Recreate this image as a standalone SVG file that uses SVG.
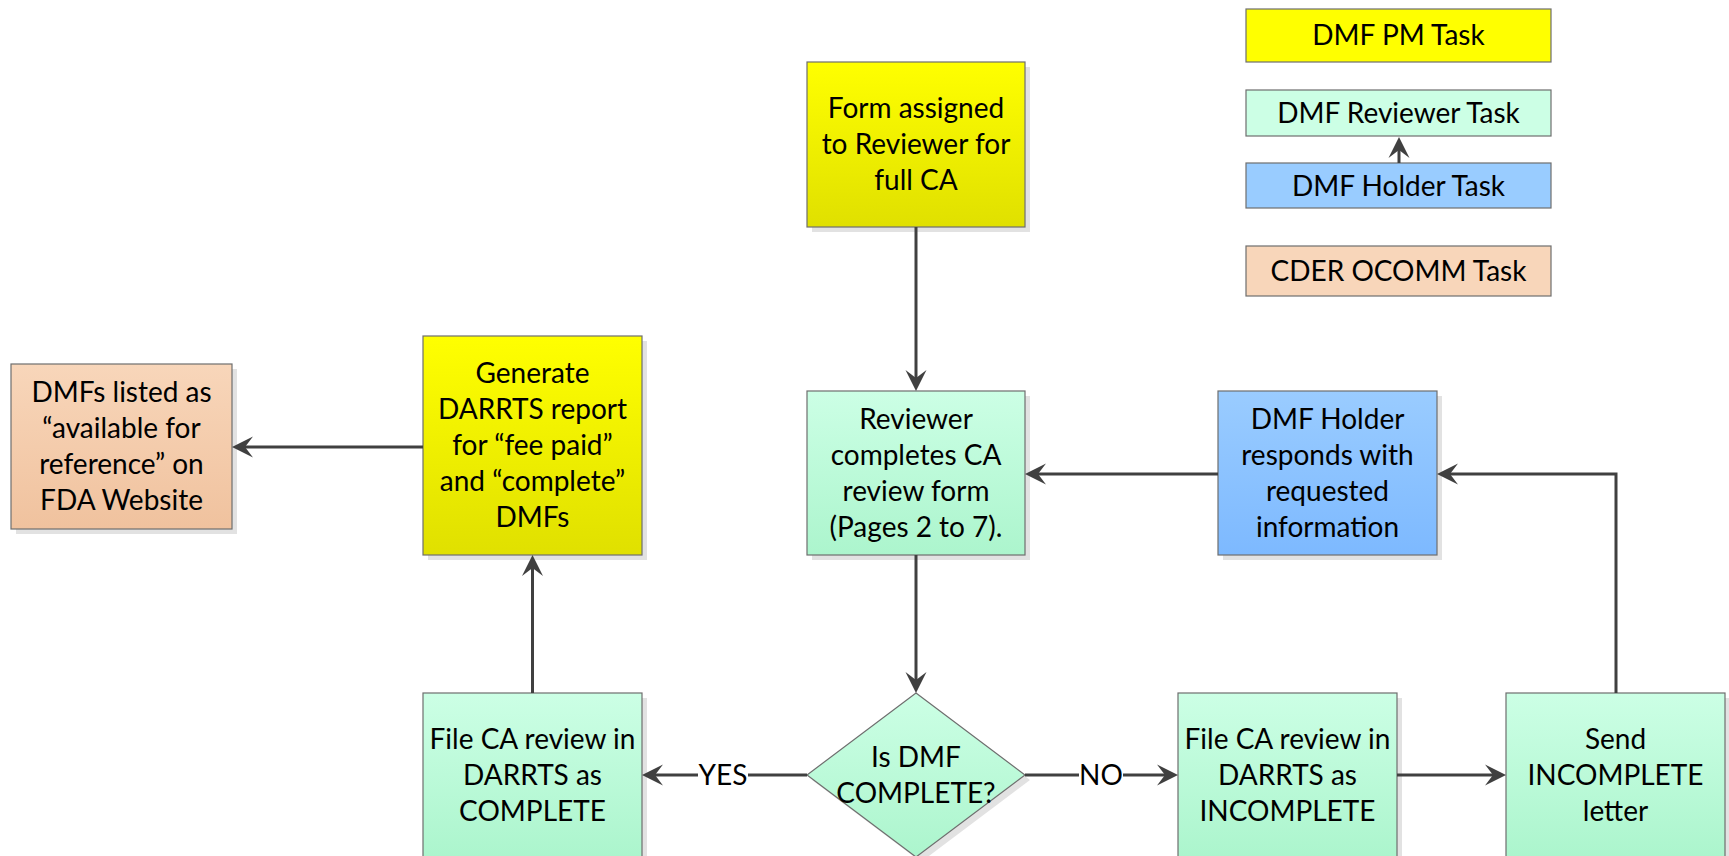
<svg xmlns="http://www.w3.org/2000/svg" width="1729" height="856" viewBox="0 0 1729 856">
<defs>
<linearGradient id="gY" x1="0" y1="0" x2="0" y2="1"><stop offset="0" stop-color="#FFFF00"/><stop offset="1" stop-color="#E0E000"/></linearGradient>
<linearGradient id="gG" x1="0" y1="0" x2="0" y2="1"><stop offset="0" stop-color="#CCFFE5"/><stop offset="1" stop-color="#ACF5CD"/></linearGradient>
<linearGradient id="gB" x1="0" y1="0" x2="0" y2="1"><stop offset="0" stop-color="#9ACCFF"/><stop offset="1" stop-color="#7DB9FF"/></linearGradient>
<linearGradient id="gO" x1="0" y1="0" x2="0" y2="1"><stop offset="0" stop-color="#F8D6BA"/><stop offset="1" stop-color="#F0C29E"/></linearGradient>
<marker id="ah" viewBox="-22 -11 24 22" refX="-12" refY="0" markerWidth="24" markerHeight="22" markerUnits="userSpaceOnUse" orient="auto">
<path d="M0,0 L-21,-10.5 L-13,0 L-21,10.5 Z" fill="#404040"/>
</marker>
</defs>
<style>
.sh{fill:#E2E2E2}
.bx{stroke:#6E6E6E;stroke-width:1.2}
.t{font-family:Lato,"Open Sans","Liberation Sans",sans-serif;font-size:28px;fill:#000;text-anchor:middle}
.c{fill:none;stroke:#404040;stroke-width:3}
</style>
<rect width="1729" height="856" fill="#FFFFFF"/>

<g id="legend-pm">
<rect class="bx" x="1246" y="9" width="305" height="53" fill="#FFFF00"/>
<text class="t" x="1398.5" y="45">DMF PM Task</text>
</g>
<g id="legend-reviewer">
<rect class="bx" x="1246" y="90" width="305" height="46" fill="#CCFFE5"/>
<text class="t" x="1398.5" y="123">DMF Reviewer Task</text>
</g>
<g id="legend-holder">
<rect class="bx" x="1246" y="163" width="305" height="45" fill="#99CCFF"/>
<text class="t" x="1398.5" y="195.5">DMF Holder Task</text>
</g>
<g id="legend-cder">
<rect class="bx" x="1246" y="246" width="305" height="50" fill="#F8D6BA"/>
<text class="t" x="1398.5" y="281">CDER OCOMM Task</text>
</g>

<g id="form-assigned">
<rect class="sh" x="812" y="67" width="218" height="165"/>
<rect class="bx" x="807" y="62" width="218" height="165" fill="url(#gY)"/>
<text class="t" x="916" y="118">Form assigned</text>
<text class="t" x="916" y="154">to Reviewer for</text>
<text class="t" x="916" y="190">full CA</text>
</g>

<g id="reviewer-completes">
<rect class="sh" x="812" y="396" width="218" height="164"/>
<rect class="bx" x="807" y="391" width="218" height="164" fill="url(#gG)"/>
<text class="t" x="916" y="428.5">Reviewer</text>
<text class="t" x="916" y="464.5">completes CA</text>
<text class="t" x="916" y="500.5">review form</text>
<text class="t" x="916" y="536.5">(Pages 2 to 7).</text>
</g>

<g id="holder-responds">
<rect class="sh" x="1223" y="396" width="219" height="164"/>
<rect class="bx" x="1218" y="391" width="219" height="164" fill="url(#gB)"/>
<text class="t" x="1327.5" y="428.5">DMF Holder</text>
<text class="t" x="1327.5" y="464.5">responds with</text>
<text class="t" x="1327.5" y="500.5">requested</text>
<text class="t" x="1327.5" y="536.5">information</text>
</g>

<g id="generate-report">
<rect class="sh" x="428" y="341" width="219" height="219"/>
<rect class="bx" x="423" y="336" width="219" height="219" fill="url(#gY)"/>
<text class="t" x="532.5" y="383">Generate</text>
<text class="t" x="532.5" y="419">DARRTS report</text>
<text class="t" x="532.5" y="455">for “fee paid”</text>
<text class="t" x="532.5" y="491">and “complete”</text>
<text class="t" x="532.5" y="527">DMFs</text>
</g>

<g id="dmfs-listed">
<rect class="sh" x="16" y="369" width="221" height="165"/>
<rect class="bx" x="11" y="364" width="221" height="165" fill="url(#gO)"/>
<text class="t" x="121.5" y="402">DMFs listed as</text>
<text class="t" x="121.5" y="438">“available for</text>
<text class="t" x="121.5" y="474">reference” on</text>
<text class="t" x="121.5" y="510">FDA Website</text>
</g>

<g id="file-complete">
<rect class="sh" x="428" y="698" width="219" height="164"/>
<rect class="bx" x="423" y="693" width="219" height="164" fill="url(#gG)"/>
<text class="t" x="532.5" y="748.5">File CA review in</text>
<text class="t" x="532.5" y="784.5">DARRTS as</text>
<text class="t" x="532.5" y="820.5">COMPLETE</text>
</g>

<g id="decision">
<polygon class="sh" points="921,698 1030,780 921,862 812,780"/>
<polygon class="bx" points="916,693 1025,775 916,857 807,775" fill="url(#gG)"/>
<text class="t" x="916" y="766.5">Is DMF</text>
<text class="t" x="916" y="802.5">COMPLETE?</text>
</g>

<g id="file-incomplete">
<rect class="sh" x="1183" y="698" width="219" height="164"/>
<rect class="bx" x="1178" y="693" width="219" height="164" fill="url(#gG)"/>
<text class="t" x="1287.5" y="748.5">File CA review in</text>
<text class="t" x="1287.5" y="784.5">DARRTS as</text>
<text class="t" x="1287.5" y="820.5">INCOMPLETE</text>
</g>

<g id="send-letter">
<rect class="sh" x="1511" y="698" width="219" height="164"/>
<rect class="bx" x="1506" y="693" width="219" height="164" fill="url(#gG)"/>
<text class="t" x="1615.5" y="748.5">Send</text>
<text class="t" x="1615.5" y="784.5">INCOMPLETE</text>
<text class="t" x="1615.5" y="820.5">letter</text>
</g>

<g id="connectors">
<path class="c" d="M916,227 V379" marker-end="url(#ah)"/>
<path class="c" d="M916,555 V681" marker-end="url(#ah)"/>
<path class="c" d="M807,775 H654" marker-end="url(#ah)"/>
<path class="c" d="M1025,775 H1166" marker-end="url(#ah)"/>
<path class="c" d="M1397,775 H1494" marker-end="url(#ah)"/>
<path class="c" d="M1616,693 V474 H1449" marker-end="url(#ah)"/>
<path class="c" d="M1218,474 H1037" marker-end="url(#ah)"/>
<path class="c" d="M532.5,693 V567" marker-end="url(#ah)"/>
<path class="c" d="M423,447 H244" marker-end="url(#ah)"/>
<path class="c" d="M1399,163 V149" marker-end="url(#ah)"/>
<rect x="698" y="760" width="50" height="30" fill="#FFFFFF"/>
<text class="t" x="723" y="785">YES</text>
<rect x="1079" y="760" width="44" height="30" fill="#FFFFFF"/>
<text class="t" x="1101" y="785">NO</text>
</g>
</svg>
